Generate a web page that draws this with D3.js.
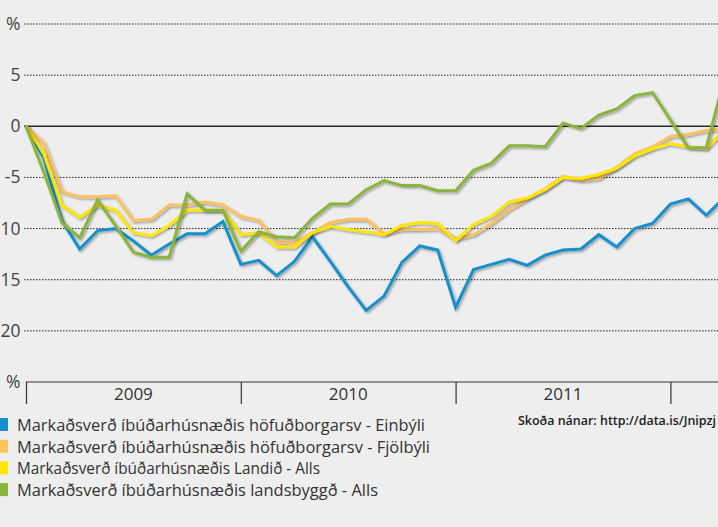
<!DOCTYPE html>
<html>
<head>
<meta charset="utf-8">
<script src="https://cdn.jsdelivr.net/npm/d3@7"></script>
<style>
  body { margin: 0; background: #eeeeee; overflow: hidden; }
  svg { display: block; }
</style>
</head>
<body>
<svg id="chart"></svg>
<script>
// monthly change since jan 2009, %
let einbyli = [0, -3.1, -9.2, -12.0, -10.2, -10.0, -11.2, -12.6, -11.5, -10.5, -10.5, -9.3,
  -13.5, -13.1, -14.6, -13.2, -10.8, -13.2, -15.7, -18.0, -16.6, -13.3, -11.7, -12.1,
  -17.7, -14.0, -13.5, -13.0, -13.6, -12.6, -12.1, -12.0, -10.6, -11.8, -10.0, -9.5,
  -7.6, -7.1, -8.7, -7.0];
let fjolbyli = [0, -1.7, -6.4, -6.9, -6.9, -6.8, -9.2, -9.1, -7.7, -7.7, -7.4, -7.7,
  -8.8, -9.2, -11.3, -11.4, -10.4, -9.4, -9.1, -9.1, -10.5, -10.1, -10.1, -10.0,
  -11.0, -10.6, -9.5, -8.1, -7.1, -6.1, -4.9, -5.3, -5.1, -4.0, -2.7, -2.0,
  -1.0, -0.8, -0.4, -0.3];
let landid = [0, -2.7, -7.7, -8.9, -7.7, -8.2, -10.4, -10.7, -9.7, -8.2, -8.2, -8.2,
  -10.6, -10.4, -11.8, -11.8, -10.4, -9.8, -10.1, -10.3, -10.6, -9.7, -9.4, -9.5,
  -11.2, -9.6, -8.8, -7.4, -7.0, -6.2, -5.0, -5.1, -4.7, -4.1, -2.9, -2.2,
  -1.7, -2.0, -2.2, -0.4];
let landsbyggd = [0, -4.5, -9.4, -10.9, -7.2, -9.7, -12.3, -12.8, -12.8, -6.6, -8.2, -8.2,
  -12.2, -10.3, -10.8, -10.9, -9.0, -7.6, -7.6, -6.2, -5.3, -5.8, -5.8, -6.3,
  -6.3, -4.3, -3.6, -1.9, -1.9, -2.0, 0.3, -0.2, 1.1, 1.7, 3.0, 3.3,
  0.6, -2.1, -2.1, 4.6];

let seriesNames = [
  "Markaðsverð íbúðarhúsnæðis höfuðborgarsv - Einbýli",
  "Markaðsverð íbúðarhúsnæðis höfuðborgarsv - Fjölbýli",
  "Markaðsverð íbúðarhúsnæðis Landið - Alls",
  "Markaðsverð íbúðarhúsnæðis landsbyggð - Alls"
];
let years = ["2009", "2010", "2011"];
let yTicks = [10, 5, 0, -5, -10, -15, -20, -25];
// labels as far as they show at the left edge of the crop
let yTickLabels = ["%", "5", "0", "-5", "10", "15", "20", "%"];
let sourceText = "Skoða nánar: http://data.is/Jnipzj";

function drawChart() {
  let width = 718;
  let height = 527;
  let left = 26;
  let monthWidth = 17.9;
  let top = 24;
  let bottom = 382;

  let colors = ["#1490cc", "#fcc25e", "#ffe600", "#8ab43a"];
  let series = [einbyli, fjolbyli, landid, landsbyggd];

  let chart = d3.select("#chart").attr("width", width).attr("height", height);

  let defs = chart.append("defs");
  defs.append("filter")
    .attr("id", "shadow")
    .attr("x", "-10%").attr("y", "-10%")
    .attr("width", "120%").attr("height", "120%")
    .append("feDropShadow")
    .attr("dx", 1.5).attr("dy", 1.5)
    .attr("stdDeviation", 1.2)
    .attr("flood-color", "#000")
    .attr("flood-opacity", 0.35);

  let xscale = d3.scaleLinear()
    .domain([0, 36])
    .range([left, left + 36 * monthWidth]);

  let yscale = d3.scaleLinear()
    .domain([-25, 10])
    .range([bottom, top]);

  // grid
  chart.append("g")
    .selectAll("line")
    .data(yTicks.filter(d => d != 0 && d != -25))
    .enter().append("line")
    .attr("x1", left - 2).attr("x2", width)
    .attr("y1", d => yscale(d)).attr("y2", d => yscale(d))
    .style("stroke", "#222")
    .style("stroke-width", 1)
    .style("stroke-dasharray", "1.5,1.5");

  chart.append("line")
    .attr("x1", left - 2).attr("x2", width)
    .attr("y1", yscale(0)).attr("y2", yscale(0))
    .style("stroke", "#2a2a2a")
    .style("stroke-width", 1.5);

  // y labels
  chart.append("g")
    .selectAll("text")
    .data(yTicks)
    .enter().append("text")
    .attr("x", 20.5)
    .attr("y", d => yscale(d) + 6)
    .style("text-anchor", "end")
    .style("font-family", "'Open Sans', sans-serif")
    .style("font-size", "17.5px")
    .style("fill", "#444")
    .text((d, i) => yTickLabels[i]);

  // x axis with year sections
  let xaxis = chart.append("g")
    .attr("transform", "translate(0," + bottom + ")")
    .call(d3.axisBottom(xscale)
      .tickValues([0, 12, 24, 36])
      .tickSize(22)
      .tickFormat(""));
  xaxis.select(".domain")
    .attr("d", "M" + left + ",0H" + width)
    .style("stroke", "#333")
    .style("stroke-width", 1.2);
  xaxis.selectAll(".tick line").style("stroke", "#333").style("stroke-width", 1.2);

  chart.append("g")
    .selectAll("text")
    .data(years)
    .enter().append("text")
    .attr("x", (d, i) => xscale(i * 12 + 6))
    .attr("y", bottom + 18)
    .style("text-anchor", "middle")
    .style("font-family", "'Open Sans', sans-serif")
    .style("font-size", "17px")
    .style("fill", "#333")
    .text(d => d);

  // lines
  let line = d3.line()
    .x((d, i) => xscale(i))
    .y(d => yscale(d));

  chart.append("g")
    .selectAll("path")
    .data(series)
    .enter().append("path")
    .attr("d", d => line(d))
    .style("fill", "none")
    .style("stroke", (d, i) => colors[i])
    .style("stroke-width", 3)
    .style("stroke-linejoin", "miter")
    .attr("filter", "url(#shadow)");

  // legend
  let legend = chart.append("g")
    .selectAll("g")
    .data(seriesNames)
    .enter().append("g")
    .attr("transform", (d, i) => "translate(0," + (425 + i * 21.7) + ")");

  legend.append("rect")
    .attr("x", -4).attr("y", -7)
    .attr("width", 12).attr("height", 13)
    .style("fill", (d, i) => colors[i]);

  let legendWidths = [408, 413, 303, 361];
  legend.append("text")
    .attr("x", 17)
    .attr("y", 6)
    .attr("textLength", (d, i) => legendWidths[i])
    .attr("lengthAdjust", "spacingAndGlyphs")
    .style("font-family", "'Open Sans', sans-serif")
    .style("font-size", "17px")
    .style("fill", "#333")
    .text(d => d);

  chart.append("text")
    .attr("x", 518)
    .attr("y", 425)
    .attr("textLength", 198)
    .attr("lengthAdjust", "spacingAndGlyphs")
    .style("font-family", "'Open Sans', sans-serif")
    .style("font-size", "12px")
    .style("font-weight", "600")
    .style("fill", "#222")
    .text(sourceText);
}

drawChart();
</script>
</body>
</html>
